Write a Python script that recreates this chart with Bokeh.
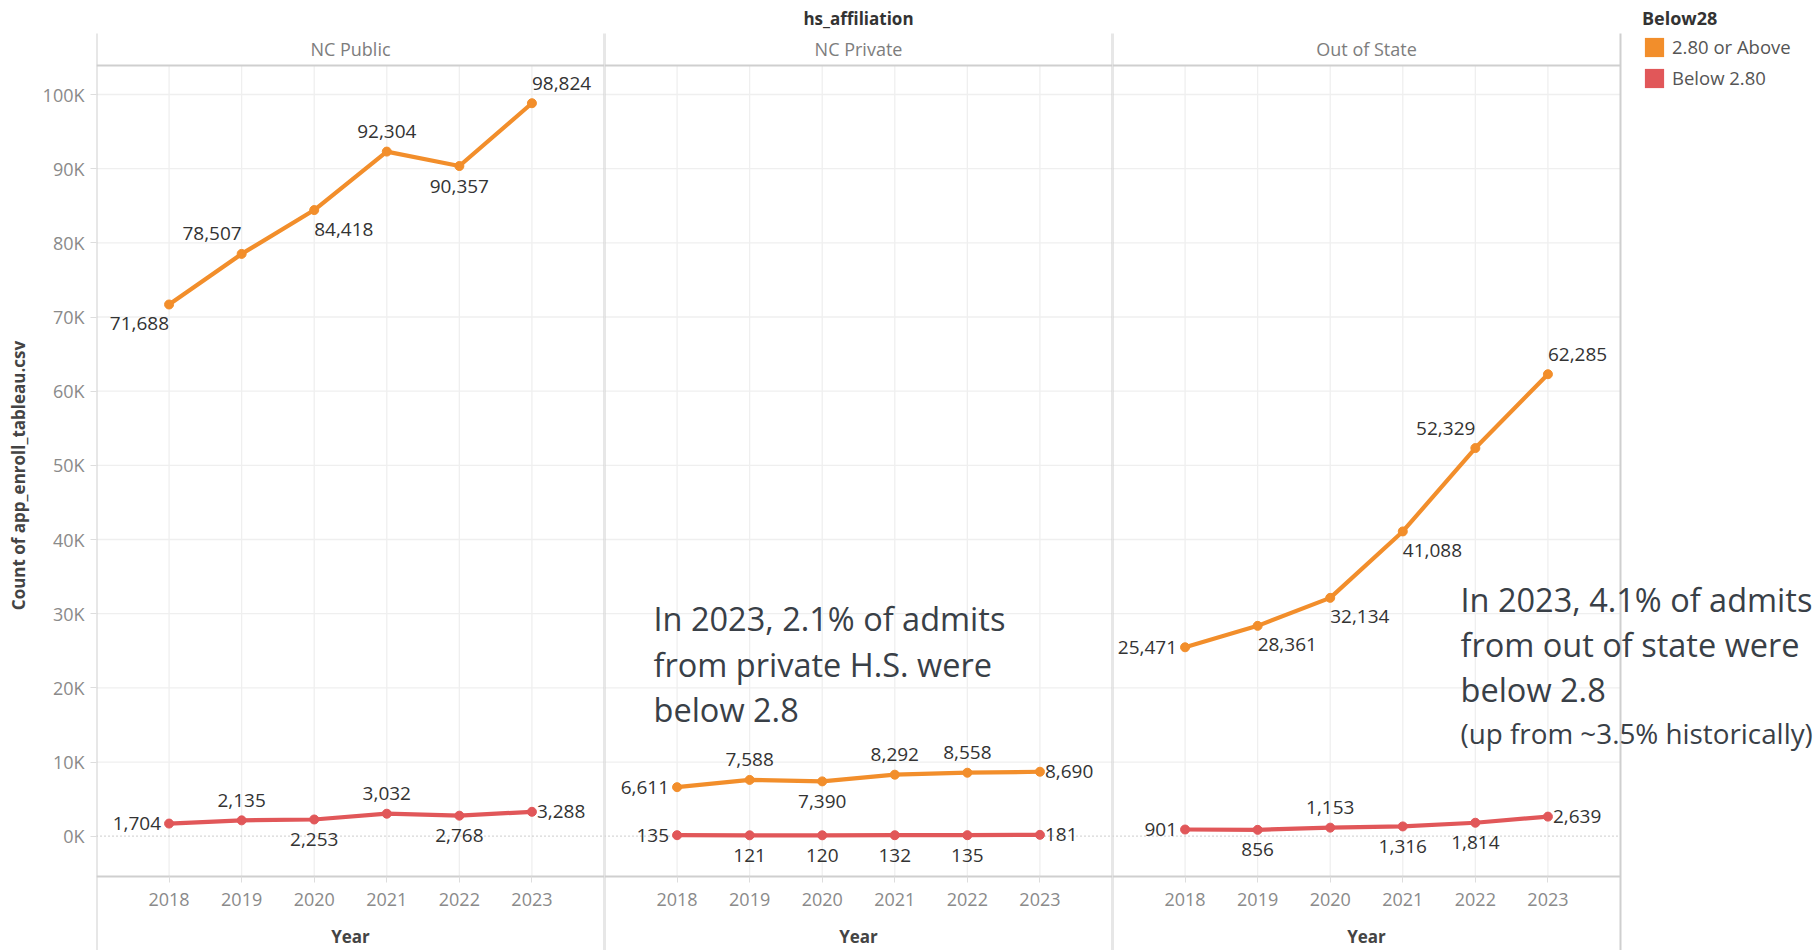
from bokeh.plotting import figure
from bokeh.models import (ColumnDataSource, FixedTicker, Range1d, Label,
                          Legend, LegendItem)
from bokeh.layouts import row
from bokeh.embed import file_html
from bokeh.resources import INLINE
from bokeh.core.properties import value

# ---------------- data ----------------
years = [2018, 2019, 2020, 2021, 2022, 2023]
panels = ["NC Public", "NC Private", "Out of State"]
groups = ["2.80 or Above", "Below 2.80"]

nc_public_above = [71688, 78507, 84418, 92304, 90357, 98824]
nc_public_below = [1704, 2135, 2253, 3032, 2768, 3288]
nc_private_above = [6611, 7588, 7390, 8292, 8558, 8690]
nc_private_below = [135, 121, 120, 132, 135, 181]
out_state_above = [25471, 28361, 32134, 41088, 52329, 62285]
out_state_below = [901, 856, 1153, 1316, 1814, 2639]

y_ticks = [0, 10000, 20000, 30000, 40000, 50000, 60000, 70000, 80000, 90000, 100000]
y_tick_labels = ["0K", "10K", "20K", "30K", "40K", "50K", "60K", "70K", "80K", "90K", "100K"]

# label placement used by the original (Tableau auto placement)
place_nc_public_above = ["BL", "AL", "BR", "A", "B", "AR"]
place_nc_public_below = ["L", "A", "B", "A", "B", "R"]
place_nc_private_above = ["L", "A", "B", "A", "A", "R"]
place_nc_private_below = ["L", "B", "B", "B", "B", "R"]
place_out_state_above = ["L", "BR", "BR", "BR", "AL", "AR"]
place_out_state_below = ["L", "B", "A", "B", "B", "R"]

notes = [
    None,
    ["In 2023, 2.1% of admits", "from private H.S. were", "below 2.8"],
    ["In 2023, 4.1% of admits", "from out of state were", "below 2.8"],
]
note_small = "(up from ~3.5% historically)"

# ---------------- style / layout ----------------
ORANGE = "#F28E2B"
RED = "#E15759"
GRID = "#efefef"
BORDER = "#cfcfcf"
TICK_COL = "#8a8a8a"
DARK = "#333333"
NOTE_COL = "#394047"
FONT = "Open Sans"

FRAME_W = 508
LEFT = 96
H = 950
TOTAL_W = 1818
X0, X1 = 2017, 2024
Y0, Y1 = -5434, 103910          # values at the bottom / top of the data area
ROW_TOP, ROW_BOT = 65, 876      # window rows of the data area
PX = (Y1 - Y0) / (ROW_BOT - ROW_TOP)
XPX = (X1 - X0) / FRAME_W


def ydata(r):
    return Y1 - (r - ROW_TOP) * PX


def xdata(panel, col):
    return X0 + (col - (LEFT + panel * FRAME_W)) * XPX


PLACE = {
    "L": ("right", "middle", -8, 0),
    "R": ("left", "middle", 5, 0),
    "A": ("center", "middle", 0, -20),
    "B": ("center", "middle", 0, 20),
    "AL": ("right", "middle", 0, -20),
    "AR": ("left", "middle", 0, -20),
    "BL": ("right", "middle", 0, 19),
    "BR": ("left", "middle", 0, 19),
}

series = [
    (nc_public_above, nc_public_below, place_nc_public_above, place_nc_public_below),
    (nc_private_above, nc_private_below, place_nc_private_above, place_nc_private_below),
    (out_state_above, out_state_below, place_out_state_above, place_out_state_below),
]

figs = []
for i, name in enumerate(panels):
    above, below, pa, pb = series[i]
    if i == 0:
        w = LEFT + FRAME_W
    elif i == 1:
        w = FRAME_W
    else:
        w = TOTAL_W - LEFT - 2 * FRAME_W
    frame_w = w - (LEFT if i == 0 else 0)
    x_end = X0 + frame_w * XPX
    p = figure(width=w, height=H, x_range=Range1d(X0, x_end),
               y_range=Range1d(ydata(H), ydata(0)),
               output_backend="svg", toolbar_location=None,
               min_border_left=LEFT if i == 0 else 0, min_border_right=0,
               min_border_top=0, min_border_bottom=0,
               y_axis_location="left" if i == 0 else None,
               title_location=None)
    p.outline_line_color = None
    p.background_fill_color = "white"
    p.border_fill_color = "white"
    p.grid.visible = False

    # grid lines limited to the panel's data area
    p.segment(x0=years, x1=years, y0=[Y0] * len(years), y1=[Y1] * len(years),
              line_color=GRID, line_width=1.3)
    gy = y_ticks[1:]
    p.segment(x0=[X0] * len(gy), x1=[X1] * len(gy), y0=gy, y1=gy,
              line_color=GRID, line_width=1.3)
    # dotted zero line
    p.segment(x0=[X0], x1=[X1], y0=[0], y1=[0], line_color="#b0b0b0",
              line_dash="1 3", line_width=1.3)
    # panel borders: verticals from header top to bottom, header line
    p.segment(x0=[X0, X1], x1=[X0, X1], y0=[ydata(33)] * 2, y1=[ydata(H + 5)] * 2,
              line_color=BORDER, line_width=2)
    p.segment(x0=[X0], x1=[X1], y0=[Y1], y1=[Y1], line_color=BORDER, line_width=2)

    # x axis drawn at the bottom of the data area
    xa = p.xaxis[0]
    xa.fixed_location = Y0
    xa.bounds = (X0, X1)
    xa.ticker = FixedTicker(ticks=years)
    xa.axis_label = "Year"
    xa.axis_line_color = BORDER
    xa.axis_line_width = 2
    xa.major_tick_line_color = "#dddddd"
    xa.major_tick_out = 6
    xa.major_tick_in = 0
    xa.minor_tick_line_color = None
    xa.major_label_standoff = 10
    xa.major_label_text_font = FONT
    xa.major_label_text_font_size = "18px"
    xa.major_label_text_color = TICK_COL
    xa.axis_label_standoff = 16
    xa.axis_label_text_font = FONT
    xa.axis_label_text_font_size = "17px"
    xa.axis_label_text_font_style = "bold"
    xa.axis_label_text_color = "#444444"

    if i == 0:
        ya = p.yaxis[0]
        ya.ticker = FixedTicker(ticks=y_ticks)
        ya.major_label_overrides = dict(zip(y_ticks, y_tick_labels))
        ya.axis_line_color = None
        ya.major_tick_line_color = "#dddddd"
        ya.major_tick_out = 6
        ya.major_tick_in = 0
        ya.minor_tick_line_color = None
        ya.major_label_standoff = 6
        ya.major_label_text_font = FONT
        ya.major_label_text_font_size = "18px"
        ya.major_label_text_color = TICK_COL
        ya.axis_label = "Count of app_enroll_tableau.csv"
        ya.axis_label_standoff = 10
        ya.axis_label_text_font = FONT
        ya.axis_label_text_font_size = "17px"
        ya.axis_label_text_font_style = "bold"
        ya.axis_label_text_color = "#444444"

    # panel header
    p.add_layout(Label(x=(X0 + X1) / 2, y=ydata(48), text=name, text_align="center",
                       text_baseline="middle", text_font=FONT, text_font_size="18px",
                       text_color="#7d7d7d"))
    if i == 1:
        p.add_layout(Label(x=(X0 + X1) / 2, y=ydata(18), text="hs_affiliation",
                           text_align="center", text_baseline="middle", text_font=FONT,
                           text_font_size="17px", text_font_style="bold",
                           text_color=DARK))

    # lines + points + labels
    for vals, plc, col in ((above, pa, ORANGE), (below, pb, RED)):
        src = ColumnDataSource(dict(
            x=years, y=vals, txt=[f"{v:,}" for v in vals],
            align=[PLACE[c][0] for c in plc], base=[PLACE[c][1] for c in plc],
            xo=[PLACE[c][2] for c in plc], yo=[PLACE[c][3] for c in plc]))
        p.line("x", "y", source=src, line_color=col, line_width=4.2)
        p.scatter("x", "y", source=src, size=9, fill_color=col, line_color=col)
        p.text("x", "y", text="txt", source=src, text_align="align",
               text_baseline="base", x_offset="xo", y_offset="yo",
               text_font=value(FONT), text_font_size="19px", text_color=DARK)

    # annotation text
    if notes[i] is not None:
        left_x = 653 if i == 1 else 1460
        base_y = [618, 663.5, 709] if i == 1 else [599, 644, 689]
        for line_txt, by in zip(notes[i], base_y):
            p.add_layout(Label(x=xdata(i, left_x), y=ydata(by), text=line_txt,
                               text_align="left", text_baseline="alphabetic",
                               text_font=FONT, text_font_size="32.5px",
                               text_color=NOTE_COL))
        if i == 2:
            p.add_layout(Label(x=xdata(i, left_x), y=ydata(732), text=note_small,
                               text_align="left", text_baseline="alphabetic",
                               text_font=FONT, text_font_size="27.8px",
                               text_color=NOTE_COL))

    if i == 2:
        nan = float("nan")
        sw_a = p.quad(left=[nan], right=[nan], top=[nan], bottom=[nan],
                      fill_color=ORANGE, line_color=None)
        sw_b = p.quad(left=[nan], right=[nan], top=[nan], bottom=[nan],
                      fill_color=RED, line_color=None)
        leg = Legend(items=[LegendItem(label=groups[0], renderers=[sw_a]),
                            LegendItem(label=groups[1], renderers=[sw_b])],
                     location=(530, H - 8 - 82), title="Below28",
                     title_text_font=FONT, title_text_font_size="18px",
                     title_text_font_style="bold", title_text_color=DARK,
                     title_standoff=4,
                     label_text_font=FONT, label_text_font_size="18.5px",
                     label_text_color="#555555",
                     glyph_width=24, glyph_height=24, label_height=24,
                     label_standoff=6, spacing=6, padding=0, margin=0,
                     border_line_color=None, background_fill_alpha=0)
        p.add_layout(leg)

    figs.append(p)

layout = row(*figs, spacing=0)
open("out.html", "w").write(file_html(layout, INLINE))
